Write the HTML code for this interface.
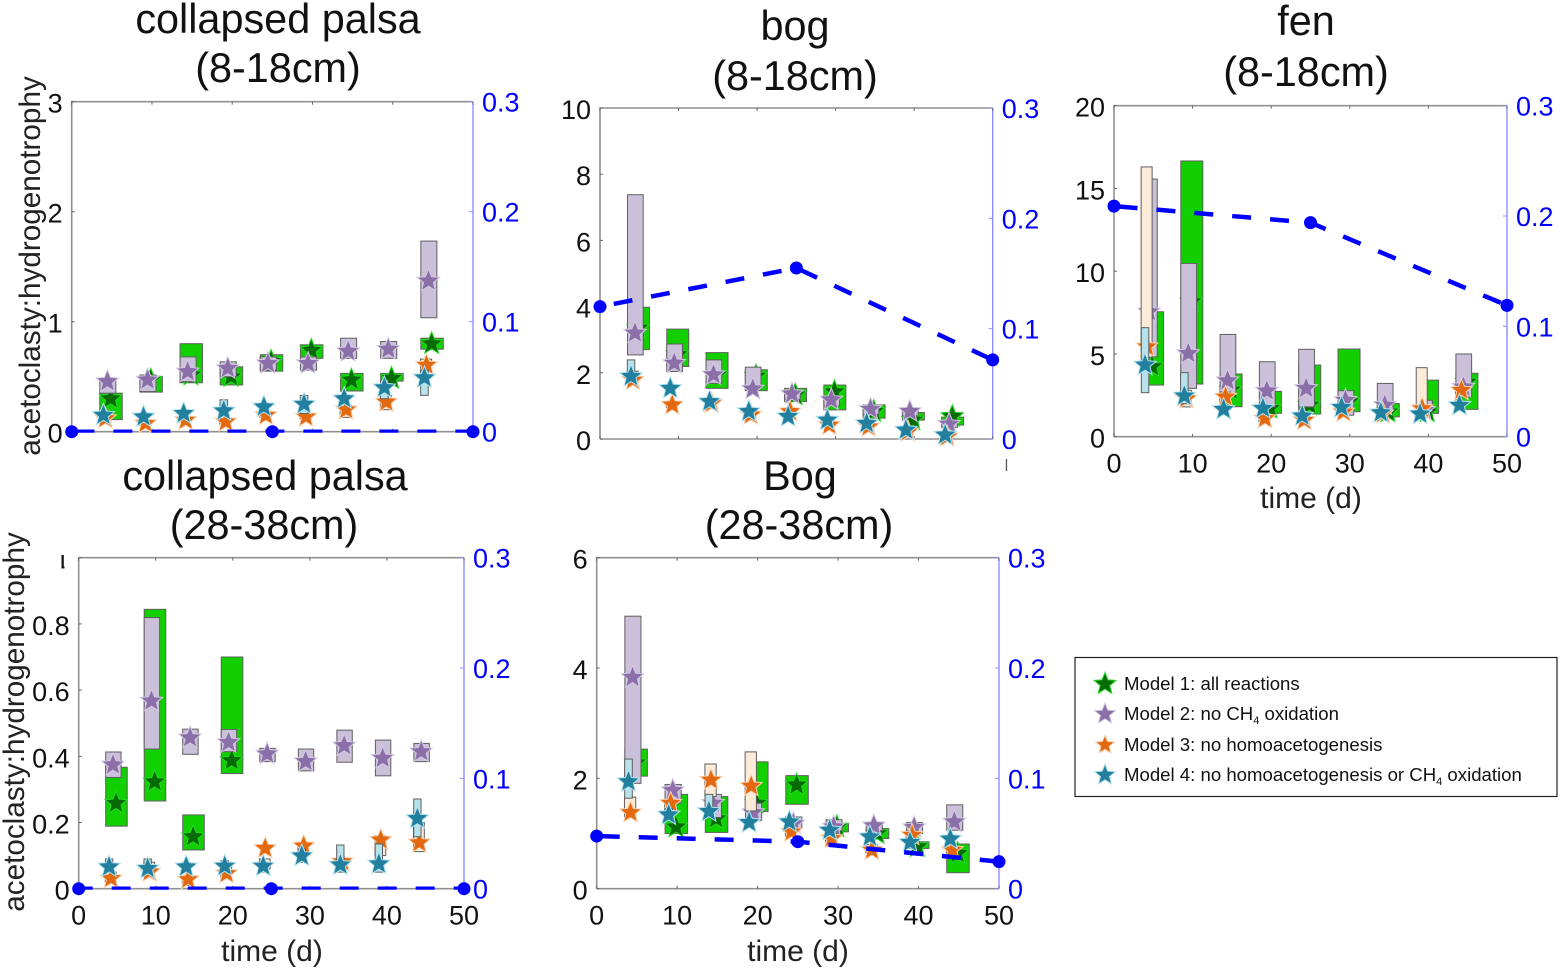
<!DOCTYPE html>
<html lang="en">
<head>
<meta charset="utf-8">
<title>Acetoclasty to hydrogenotrophy ratio by model</title>
<style>
html,body{margin:0;padding:0;background:#fff;}
#fig{display:block;width:1560px;height:970px;font-family:"Liberation Sans",sans-serif;filter:blur(0.35px);}
.title{font-size:41.4px;fill:#111;text-anchor:middle;}
.axlabel{font-size:30px;fill:#222;text-anchor:middle;}
.ylabel{font-size:29.7px;fill:#222;text-anchor:middle;}
.tick{font-size:27px;fill:#111;}
.rtick{font-size:27px;fill:#0000ff;}
.legtext{font-size:18.6px;fill:#111;}
.legsub{font-size:11px;}
</style>
</head>
<body>
<svg id="fig" xmlns="http://www.w3.org/2000/svg" width="1560" height="970" viewBox="0 0 1560 970">
  <defs>
    <clipPath id="clip-d-top-label"><rect x="61.5" y="555" width="3" height="14"/></clipPath>
    <clipPath id="clip-b-zero-label"><rect x="995" y="425" width="30" height="25"/></clipPath>
  </defs>
  <rect x="0" y="0" width="1560" height="970" fill="#fff"/>

  <g id="panel-a"></g>
  <g id="panel-b"></g>
  <g id="panel-c"></g>
  <g id="panel-d"></g>
  <g id="panel-e"></g>

  <text class="title" x="278" y="33">collapsed palsa</text>
  <text class="title" x="278" y="82">(8-18cm)</text>
  <text class="title" x="795" y="40">bog</text>
  <text class="title" x="795" y="90">(8-18cm)</text>
  <text class="title" x="1306" y="35">fen</text>
  <text class="title" x="1306" y="86">(8-18cm)</text>
  <text class="title" x="265" y="490">collapsed palsa</text>
  <text class="title" x="264" y="539">(28-38cm)</text>
  <text class="title" x="800" y="490">Bog</text>
  <text class="title" x="799" y="539">(28-38cm)</text>

  <text class="ylabel" transform="translate(40,266) rotate(-90)">acetoclasty:hydrogenotrophy</text>
  <text class="ylabel" transform="translate(24,722) rotate(-90)">acetoclasty:hydrogenotrophy</text>

  <text class="axlabel" x="1311" y="508">time (d)</text>
  <text class="axlabel" x="272" y="961">time (d)</text>
  <text class="axlabel" x="798" y="961">time (d)</text>

  <rect x="1005.8" y="459" width="1.3" height="12" fill="#555"/>

  <g id="legend">
    <rect x="1075" y="657.5" width="482" height="139" fill="#fff" stroke="#222" stroke-width="1.2"/>
    <polygon id="leg-star-1"/>
    <polygon id="leg-star-2"/>
    <polygon id="leg-star-3"/>
    <polygon id="leg-star-4"/>
    <text class="legtext" x="1124" y="690">Model 1: all reactions</text>
    <text class="legtext" x="1124" y="720">Model 2: no CH<tspan class="legsub" dy="4">4</tspan><tspan dy="-4"> oxidation</tspan></text>
    <text class="legtext" x="1124" y="751">Model 3: no homoacetogenesis</text>
    <text class="legtext" x="1124" y="781">Model 4: no homoacetogenesis or CH<tspan class="legsub" dy="4">4</tspan><tspan dy="-4"> oxidation</tspan></text>
  </g>
</svg>

<script>
const times = [5, 10, 15, 20, 25, 30, 35, 40, 45];
const blueTimes = [0, 25, 50];
const xTicks = [0, 10, 20, 30, 40, 50];
const rightTicks = [0, 0.1, 0.2, 0.3];
const rightTickLabels = ['0', '0.1', '0.2', '0.3'];

/* Panel A: collapsed palsa 8-18cm */
const aYTicks = [0, 1, 2, 3];
const aM1Star = [0.30, 0.47, 0.515, 0.50, 0.64, 0.74, 0.47, 0.485, 0.80];
const aM1Low = [0.11, 0.36, 0.445, 0.425, 0.55, 0.667, 0.37, 0.46, 0.75];
const aM1High = [0.35, 0.50, 0.80, 0.59, 0.70, 0.79, 0.53, 0.53, 0.85];
const aM2Star = [0.455, 0.47, 0.545, 0.575, 0.62, 0.62, 0.73, 0.75, 1.37];
const aM2Low = [0.35, 0.365, 0.455, 0.50, 0.56, 0.56, 0.667, 0.667, 1.036];
const aM2High = [0.485, 0.515, 0.68, 0.635, 0.68, 0.68, 0.85, 0.82, 1.733];
const aM3Star = [0.12, 0.075, 0.105, 0.09, 0.15, 0.135, 0.20, 0.27, 0.605];
const aM3Low = [0.09, 0.06, 0.09, 0.07, 0.13, 0.12, 0.13, 0.20, 0.55];
const aM3High = [0.14, 0.09, 0.12, 0.11, 0.17, 0.15, 0.24, 0.33, 0.66];
const aM4Star = [0.15, 0.135, 0.165, 0.19, 0.225, 0.25, 0.30, 0.40, 0.49];
const aM4Low = [0.13, 0.12, 0.145, 0.15, 0.20, 0.165, 0.25, 0.30, 0.33];
const aM4High = [0.17, 0.15, 0.19, 0.29, 0.25, 0.33, 0.33, 0.47, 0.56];
const aBlue = [0, 0, 0];

/* Panel B: bog 8-18cm */
const bYTicks = [0, 2, 4, 6, 8, 10];
const bM1Star = [3.35, 2.55, 1.94, 1.90, 1.33, 1.43, 0.83, 0.57, 0.68];
const bM1Low = [2.7, 2.19, 1.53, 1.46, 1.13, 0.88, 0.63, 0.57, 0.42];
const bM1High = [3.98, 3.32, 2.61, 2.09, 1.53, 1.63, 1.03, 0.80, 0.66];
const bM2Star = [3.2, 2.29, 1.94, 1.51, 1.36, 1.18, 0.90, 0.83, 0.45];
const bM2Low = [2.54, 2.04, 1.68, 1.58, 1.2, 1.0, 0.75, 0.70, 0.35];
const bM2High = [7.38, 2.87, 2.39, 2.17, 1.45, 1.3, 1.0, 0.95, 0.55];
const bM3Star = [1.78, 1.03, 1.08, 0.73, 0.83, 0.42, 0.37, 0.22, 0.07];
const bM3Low = [1.7, 0.95, 1.02, 0.65, 0.75, 0.38, 0.30, 0.15, 0.03];
const bM3High = [2.05, 1.1, 1.15, 0.85, 0.9, 0.5, 0.45, 0.30, 0.12];
const bM4Star = [1.89, 1.53, 1.13, 0.83, 0.68, 0.57, 0.47, 0.27, 0.12];
const bM4Low = [1.73, 1.45, 1.05, 0.75, 0.6, 0.5, 0.4, 0.2, 0.05];
const bM4High = [2.39, 1.6, 1.2, 0.9, 0.76, 0.65, 0.55, 0.35, 0.2];
const bBlue = [0.12, 0.155, 0.0717];

/* Panel C: fen 8-18cm */
const cYTicks = [0, 5, 10, 15, 20];
const cM1Star = [4.23, 8.16, 2.82, 1.71, 1.91, 2.11, 1.5, 1.5, 3.3];
const cM1Low = [3.12, 3.18, 1.81, 1.41, 1.37, 1.51, 1.2, 1.41, 1.65];
const cM1High = [7.55, 16.66, 3.79, 2.74, 4.33, 5.3, 2.0, 3.42, 3.83];
const cM2Star = [7.55, 5.03, 3.38, 2.76, 2.92, 2.2, 1.9, 1.6, 3.0];
const cM2Low = [4.83, 2.92, 2.6, 1.8, 1.8, 1.3, 1.6, 1.5, 2.4];
const cM2High = [15.57, 10.47, 6.18, 4.53, 5.28, 2.78, 3.22, 2.2, 5.0];
const cM3Star = [5.44, 2.3, 2.4, 1.1, 1.0, 1.5, 1.4, 1.7, 2.8];
const cM3Low = [4.8, 1.8, 2.1, 0.9, 0.8, 1.3, 1.2, 1.6, 2.6];
const cM3High = [16.3, 2.8, 2.7, 1.3, 1.2, 1.7, 1.6, 4.17, 3.0];
const cM4Star = [4.33, 2.46, 1.65, 1.71, 1.25, 1.77, 1.45, 1.37, 1.9];
const cM4Low = [2.66, 2.0, 1.5, 1.55, 1.1, 1.6, 1.3, 1.2, 1.75];
const cM4High = [6.59, 3.87, 1.8, 1.9, 1.4, 1.9, 1.6, 1.5, 2.05];
const cBlue = [0.209, 0.194, 0.119];

/* Panel D: collapsed palsa 28-38cm (Model 1 not shown after day 20) */
const dYTicks = [0, 0.2, 0.4, 0.6, 0.8, 1];
const dYTickLabels = ['0', '0.2', '0.4', '0.6', '0.8', '1'];
const dM1Star = [0.258, 0.323, 0.157, 0.387, null, null, null, null, null];
const dM1Low = [0.189, 0.265, 0.117, 0.348, null, null, null, null, null];
const dM1High = [0.367, 0.844, 0.223, 0.70, null, null, null, null, null];
const dM2Star = [0.374, 0.567, 0.456, 0.442, 0.407, 0.384, 0.432, 0.394, 0.414];
const dM2Low = [0.336, 0.422, 0.406, 0.414, 0.384, 0.356, 0.382, 0.341, 0.384];
const dM2High = [0.413, 0.819, 0.482, 0.481, 0.424, 0.422, 0.479, 0.449, 0.439];
const dM3Star = [0.031, 0.051, 0.028, 0.046, 0.122, 0.129, 0.082, 0.147, 0.139];
const dM3Low = [0.02, 0.04, 0.01, 0.03, 0.06, 0.10, 0.06, 0.10, 0.112];
const dM3High = [0.05, 0.08, 0.04, 0.07, 0.09, 0.14, 0.09, 0.16, 0.20];
const dM4Star = [0.066, 0.061, 0.066, 0.068, 0.068, 0.099, 0.072, 0.075, 0.212];
const dM4Low = [0.05, 0.05, 0.05, 0.05, 0.05, 0.08, 0.05, 0.05, 0.157];
const dM4High = [0.09, 0.09, 0.08, 0.085, 0.08, 0.12, 0.132, 0.135, 0.271];
const dBlue = [0, 0, 0];

/* Panel E: bog 28-38cm */
const eYTicks = [0, 2, 4, 6];
const eM1Star = [2.28, 1.12, 1.27, 1.55, 1.88, 1.12, 1.0, 0.76, 0.64];
const eM1Low = [2.04, 1.0, 1.02, 1.4, 1.53, 1.03, 0.91, 0.73, 0.29];
const eM1High = [2.53, 1.71, 1.67, 2.3, 2.05, 1.18, 1.09, 0.85, 0.81];
const eM2Star = [3.83, 1.78, 1.55, 1.38, 1.18, 1.12, 1.14, 1.11, 1.21];
const eM2Low = [1.91, 1.55, 1.29, 1.24, 1.1, 1.05, 1.05, 1.0, 1.06];
const eM2High = [4.94, 1.89, 1.71, 1.55, 1.3, 1.25, 1.2, 1.2, 1.52];
const eM3Star = [1.38, 1.55, 1.97, 1.86, 1.03, 0.91, 0.70, 0.97, 0.70];
const eM3Low = [1.3, 1.4, 1.67, 1.41, 0.95, 0.85, 0.65, 0.9, 0.65];
const eM3High = [1.66, 1.6, 2.26, 2.48, 1.1, 1.0, 0.8, 1.05, 0.8];
const eM4Star = [1.94, 1.34, 1.4, 1.2, 1.21, 1.06, 0.94, 0.84, 0.9];
const eM4Low = [1.64, 1.25, 1.3, 1.15, 1.15, 1.0, 0.88, 0.78, 0.85];
const eM4High = [2.35, 1.45, 1.71, 1.25, 1.27, 1.12, 1.0, 0.9, 0.95];
const eBlue = [0.0477, 0.0426, 0.0245];

const NS = 'http://www.w3.org/2000/svg';
const modelStyles = [
  {boxFill: '#12d000', boxW: 2.8, boxDx: -0.1, starDx: -0.15, fill: '#056b05', edge: '#22d822', r: 11.8},
  {boxFill: '#cbc0da', boxW: 2.0, boxDx: -0.5, starDx: -0.55, fill: '#8a6fa8', edge: '#d4c8e2', r: 11.8},
  {boxFill: '#fdebd9', boxW: 1.4, boxDx: -0.85, starDx: -0.8, fill: '#e2690f', edge: '#fbd5b5', r: 11.5},
  {boxFill: '#b7e2ec', boxW: 0.95, boxDx: -1.05, starDx: -1.05, fill: '#22809e', edge: '#b5e3ef', r: 11.8}
];

function starPoints(cx, cy, r) {
  const pts = [];
  for (let i = 0; i < 10; i++) {
    const rad = i % 2 === 0 ? r : r * 0.44;
    const ang = -Math.PI / 2 + i * Math.PI / 5;
    pts.push((cx + rad * Math.cos(ang)).toFixed(1) + ',' + (cy + rad * Math.sin(ang)).toFixed(1));
  }
  return pts.join(' ');
}

function make(tag, parent, props) {
  const node = document.createElementNS(NS, tag);
  for (const k in props) node.setAttribute(k, props[k]);
  parent.appendChild(node);
  return node;
}

function drawPanel(cfg) {
  const g = document.getElementById(cfg.id);
  const xScale = t => cfg.x0 + (t / 50) * (cfg.x1 - cfg.x0);
  const yScale = v => cfg.y0 - (v / cfg.yMax) * (cfg.y0 - cfg.y1);
  const y2Scale = v => cfg.y0 - (v / 0.3) * (cfg.y0 - cfg.y1);

  const frame = make('path', g, {d: 'M' + cfg.x0 + ' ' + cfg.y0 + 'V' + cfg.y1 + 'H' + cfg.x1 + 'M' + cfg.x0 + ' ' + cfg.y0 + 'H' + cfg.x1, fill: 'none', stroke: '#909090', 'stroke-width': 1.6});
  
  
  const rightAxis = make('line', g, {x1: cfg.x1, x2: cfg.x1, y1: cfg.y0, y2: cfg.y1, stroke: '#8f8fff', 'stroke-width': 1.4});
  
  

  xTicks.forEach(t => {
    const tb = make('line', g, {x1: xScale(t), x2: xScale(t), y1: cfg.y0, y2: cfg.y0 - 3, stroke: '#666', 'stroke-width': 1});
    
    
    const tt = make('line', g, {x1: xScale(t), x2: xScale(t), y1: cfg.y1, y2: cfg.y1 + 3, stroke: '#666', 'stroke-width': 1});
    
    
    if (cfg.xLabels) {
      const lab = make('text', g, {class: 'tick', x: xScale(t), y: cfg.y0 + 36, 'text-anchor': 'middle'});
      
      
      lab.textContent = String(t);
    }
  });

  cfg.yTicks.forEach((v, i) => {
    const tk = make('line', g, {x1: cfg.x0, x2: cfg.x0 + 3, y1: yScale(v), y2: yScale(v), stroke: '#666', 'stroke-width': 1});
    
    
    const lab = make('text', g, {class: 'tick', x: cfg.x0 - 9, y: yScale(v) + 11, 'text-anchor': 'end'});
    
    
    lab.textContent = cfg.yLabels ? cfg.yLabels[i] : String(v);
    if (cfg.topLabelClip && i === cfg.yTicks.length - 1) lab.setAttribute('clip-path', 'url(#' + cfg.topLabelClip + ')');
  });

  rightTicks.forEach((v, i) => {
    const tk = make('line', g, {x1: cfg.x1, x2: cfg.x1 - 4, y1: y2Scale(v), y2: y2Scale(v), stroke: '#8f8fff', 'stroke-width': 1});
    
    
    const lab = make('text', g, {class: 'rtick', x: cfg.x1 + 9, y: y2Scale(v) + 10});
    
    
    lab.textContent = rightTickLabels[i];
    if (cfg.rightZeroClip && i === 0) lab.setAttribute('clip-path', 'url(#' + cfg.rightZeroClip + ')');
  });

  cfg.series.forEach((s, m) => {
    const st = modelStyles[m];
    times.forEach((t, i) => {
      if (s.star[i] === null) return;
      const w = st.boxW * (cfg.x1 - cfg.x0) / 50;
      const box = make('rect', g, {
        x: xScale(t + st.boxDx) - w / 2,
        y: yScale(s.high[i]),
        width: w,
        height: yScale(s.low[i]) - yScale(s.high[i]),
        fill: st.boxFill,
        stroke: '#5f5f5f',
        'stroke-width': 1
      });
      
      
      const star = make('polygon', g, {
        points: starPoints(xScale(t + st.starDx), yScale(s.star[i]), st.r),
        fill: st.fill,
        stroke: st.edge,
        'stroke-width': 1,
        'stroke-linejoin': 'miter',
        'stroke-miterlimit': 6
      });
      
      
    });
  });

  const clip = make('clipPath', g, {id: cfg.id + '-line-clip'});
  make('rect', clip, {x: cfg.x0, y: cfg.y1, width: cfg.x1 - cfg.x0, height: cfg.y0 - cfg.y1 + 1});
  const d = blueTimes.map((t, i) => (i ? 'L' : 'M') + xScale(t) + ' ' + y2Scale(cfg.blue[i])).join(' ');
  const line = make('path', g, {d: d, fill: 'none', stroke: '#0000ff', 'stroke-width': 4.5, 'stroke-dasharray': '19 19', 'stroke-dashoffset': -cfg.dashStart, 'clip-path': 'url(#' + cfg.id + '-line-clip)'});
  
  
  blueTimes.forEach((t, i) => {
    const dot = make('circle', g, {cx: xScale(t), cy: y2Scale(cfg.blue[i]), r: 6.5, fill: '#0000ff'});
    
    
  });
}

drawPanel({id: 'panel-a', x0: 71.7, x1: 473, y0: 431.7, y1: 101.7, yMax: 3, yTicks: aYTicks, xLabels: false, blue: aBlue, dashStart: 3.7,
  series: [{star: aM1Star, low: aM1Low, high: aM1High}, {star: aM2Star, low: aM2Low, high: aM2High}, {star: aM3Star, low: aM3Low, high: aM3High}, {star: aM4Star, low: aM4Low, high: aM4High}]});
drawPanel({id: 'panel-b', x0: 600, x1: 992.7, y0: 439, y1: 108, yMax: 10, yTicks: bYTicks, xLabels: false, blue: bBlue, dashStart: 14, rightZeroClip: 'clip-b-zero-label',
  series: [{star: bM1Star, low: bM1Low, high: bM1High}, {star: bM2Star, low: bM2Low, high: bM2High}, {star: bM3Star, low: bM3Low, high: bM3High}, {star: bM4Star, low: bM4Low, high: bM4High}]});
drawPanel({id: 'panel-c', x0: 1114, x1: 1507, y0: 436.7, y1: 105.7, yMax: 20, yTicks: cYTicks, xLabels: true, blue: cBlue, dashStart: 4.6,
  series: [{star: cM1Star, low: cM1Low, high: cM1High}, {star: cM2Star, low: cM2Low, high: cM2High}, {star: cM3Star, low: cM3Low, high: cM3High}, {star: cM4Star, low: cM4Low, high: cM4High}]});
drawPanel({id: 'panel-d', x0: 78.7, x1: 464, y0: 888.7, y1: 557.7, yMax: 1, yTicks: dYTicks, yLabels: dYTickLabels, xLabels: true, blue: dBlue, dashStart: 33, topLabelClip: 'clip-d-top-label',
  series: [{star: dM1Star, low: dM1Low, high: dM1High}, {star: dM2Star, low: dM2Low, high: dM2High}, {star: dM3Star, low: dM3Low, high: dM3High}, {star: dM4Star, low: dM4Low, high: dM4High}]});
drawPanel({id: 'panel-e', x0: 596.7, x1: 999, y0: 888.7, y1: 557.7, yMax: 6, yTicks: eYTicks, xLabels: true, blue: eBlue, dashStart: 4,
  series: [{star: eM1Star, low: eM1Low, high: eM1High}, {star: eM2Star, low: eM2Low, high: eM2High}, {star: eM3Star, low: eM3Low, high: eM3High}, {star: eM4Star, low: eM4Low, high: eM4High}]});

[[1, 1105, 684, 11.5], [2, 1105, 714, 11], [3, 1105, 745, 10], [4, 1105, 775, 11]].forEach(e => {
  const p = document.getElementById('leg-star-' + e[0]);
  const st = modelStyles[e[0] - 1];
  p.setAttribute('points', starPoints(e[1], e[2], e[3]));
  p.setAttribute('fill', st.fill);
  p.setAttribute('stroke', st.edge);
  p.setAttribute('stroke-width', '1');
  p.setAttribute('stroke-miterlimit', '6');
});
</script>
</body>
</html>
